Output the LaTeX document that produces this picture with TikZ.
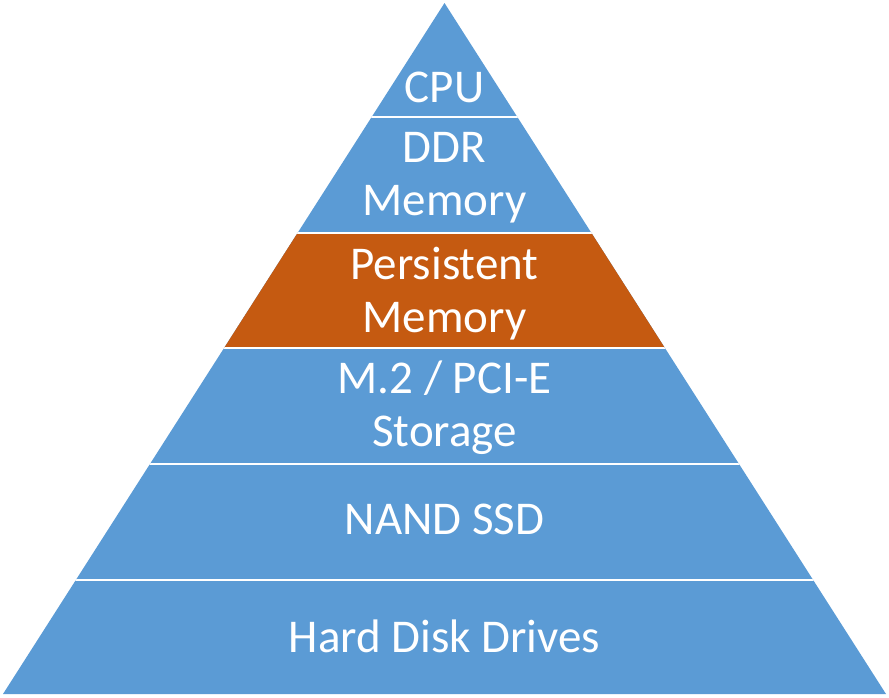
\documentclass[tikz,border=0pt]{standalone}
\usepackage{fontspec}
\setmainfont{Carlito}
\definecolor{layerblue}{HTML}{5B9BD5}
\definecolor{layerorange}{HTML}{C55A11}
\tikzset{layer text/.style={text=white,align=center,inner sep=0pt,font=\fontsize{47}{53}\selectfont}}

\begin{document}
\begin{tikzpicture}[x=1pt,y=-1pt]
	\useasboundingbox (0,0) rectangle (889,697);
	\coordinate (apex) at (444.5,3);
	\coordinate (base_l) at (3,694);
	\coordinate (base_r) at (886,694);
	\begin{scope}
		\clip (apex) -- (base_r) -- (base_l) -- cycle;
		\fill[layerblue] (0,0) rectangle (889,697);
		\fill[layerorange] (0,233) rectangle (889,348);
		\foreach \y in {117,233,348,464,580}
			\draw[white,line width=2pt] (0,\y) -- (889,\y);
	\end{scope}
	\node[layer text,anchor=base] (cpu) at (444.5,102) {CPU};
	\node[layer text] (ddr) at (444.5,178) {DDR\\Memory};
	\node[layer text] (pmem) at (444.5,293.5) {Persistent\\Memory};
	\node[layer text] (pcie) at (444.5,408) {M.2 / PCI-E\\Storage};
	\node[layer text,anchor=base] (ssd) at (444.5,534) {NAND SSD};
	\node[layer text,anchor=base] (hdd) at (444.5,652) {Hard Disk Drives};
\end{tikzpicture}
\end{document}
